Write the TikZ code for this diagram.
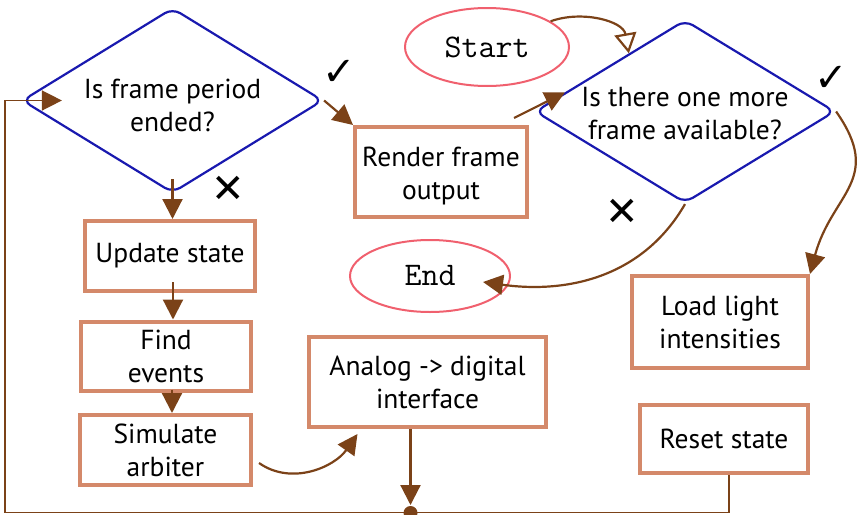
\documentclass[tikz,border=0pt]{standalone}
\usepackage{fontspec}
\setmainfont{PT Sans}
\newfontfamily\symfont{DejaVu Sans}
\usetikzlibrary{shapes.geometric,arrows.meta}
\definecolor{dblue}{RGB}{25,25,175}
\definecolor{boxc}{RGB}{212,137,106}
\definecolor{arrc}{RGB}{123,66,24}
\definecolor{termc}{RGB}{240,96,110}
\newcommand{\lowtext}[2]{\raisebox{-#1}[\height][\depth]{\makebox[140pt]{\begin{tabular}{@{}c@{}}#2\end{tabular}}}}
\begin{document}
\begin{tikzpicture}[x=1pt,y=-1pt,
  font=\fontsize{27.5}{33}\selectfont,
  decision/.style={diamond, draw=dblue, line width=2.2pt, rounded corners=9pt,
    aspect=1.63, inner sep=0pt, align=center},
  proc/.style={rectangle, draw=boxc, line width=4pt, align=center, inner sep=0pt},
  term/.style={ellipse, draw=termc, line width=2pt, inner sep=0pt,
    font=\ttfamily\fontsize{33}{36}\selectfont},
  conn/.style={draw=arrc, line width=2.2pt},
  loopline/.style={draw=arrc, line width=1.5pt},
  tip/.style={-{Triangle[length=20pt,width=20pt]}},
  opentip/.style={-{Triangle[open,length=20pt,width=22pt]}},
  yesno/.style={font=\symfont\fontsize{40}{40}\selectfont, inner sep=0pt}
]
\useasboundingbox (0,0) rectangle (861,514);

% decisions
\node[decision, minimum width=301pt, minimum height=185pt] (d1) at (172.5,100.5) {\lowtext{8pt}{Is frame period\\ended?}};
\node[decision, minimum width=300pt, minimum height=183pt] (d2) at (685,111.5) {\lowtext{5pt}{Is there one more\\frame available?}};

% terminals
\node[term, minimum width=164pt, minimum height=78pt] (start) at (487,47) {Start};
\node[term, minimum width=160pt, minimum height=72pt] (end) at (430,276) {End};

% process boxes
\node[proc, minimum width=172pt, minimum height=90pt] (render) at (441,172) {\lowtext{4pt}{Render frame\\output}};
\node[proc, minimum width=170pt, minimum height=70pt] (update) at (170,256) {Update state};
\node[proc, minimum width=170pt, minimum height=69pt] (find) at (166,356) {Find\\events};
\node[proc, minimum width=171pt, minimum height=70pt] (sim) at (165.5,450) {Simulate\\arbiter};
\node[proc, minimum width=237pt, minimum height=90pt] (analog) at (427.5,382) {Analog -> digital\\interface};
\node[proc, minimum width=176pt, minimum height=92pt] (load) at (720,322) {Load light\\intensities};
\node[proc, minimum width=168pt, minimum height=68pt] (reset) at (724,439) {Reset state};

% yes / no marks
\node[yesno] (y1) at (339,73) {✓};
\node[yesno] (n1) at (228,189) {✕};
\node[yesno] (y2) at (831,79) {✓};
\node[yesno] (n2) at (622,212) {✕};

% connectors
\draw[conn,tip] (d1.east) -- (render.north west);
\draw[conn,tip] ([xshift=-15pt,yshift=7pt]render.north east) -- (d2.171);
\draw[conn,opentip] (start.22) to[out=20,in=100] (d2.134);
\draw[conn,tip] (d2.east) to[out=-55,in=75,looseness=1.3] (load.north east);
\draw[conn,tip] (d2.south) to[out=240,in=-8] ([xshift=53pt,yshift=-6pt]end.center);
\draw[conn,tip] ([yshift=15pt]d1.south) -- (d1.south |- update.north);
\draw[conn,tip] ([xshift=3pt,yshift=11pt]update.south) -- ([xshift=3pt]update.south |- find.north);
\draw[conn,tip] ([xshift=6pt,yshift=3pt]find.south) -- ([xshift=6pt]find.south |- sim.north);
\draw[conn,tip] ([xshift=6pt,yshift=-13pt]sim.east) to[out=-35,in=235] ([xshift=-70pt,yshift=-5pt]analog.south);
\draw[conn,tip] ([xshift=-17pt]analog.south) -- ++(0,76);
\coordinate (dot) at (410.5,513);
\fill[arrc] (dot) circle (7pt);

% loop back
\coordinate (bl) at (5,512.5);
\draw[loopline,-{Triangle[length=20pt,width=20pt]}] ([xshift=5pt]reset.south) |- (bl) |- ([xshift=41pt]d1.west);
\end{tikzpicture}
\end{document}
